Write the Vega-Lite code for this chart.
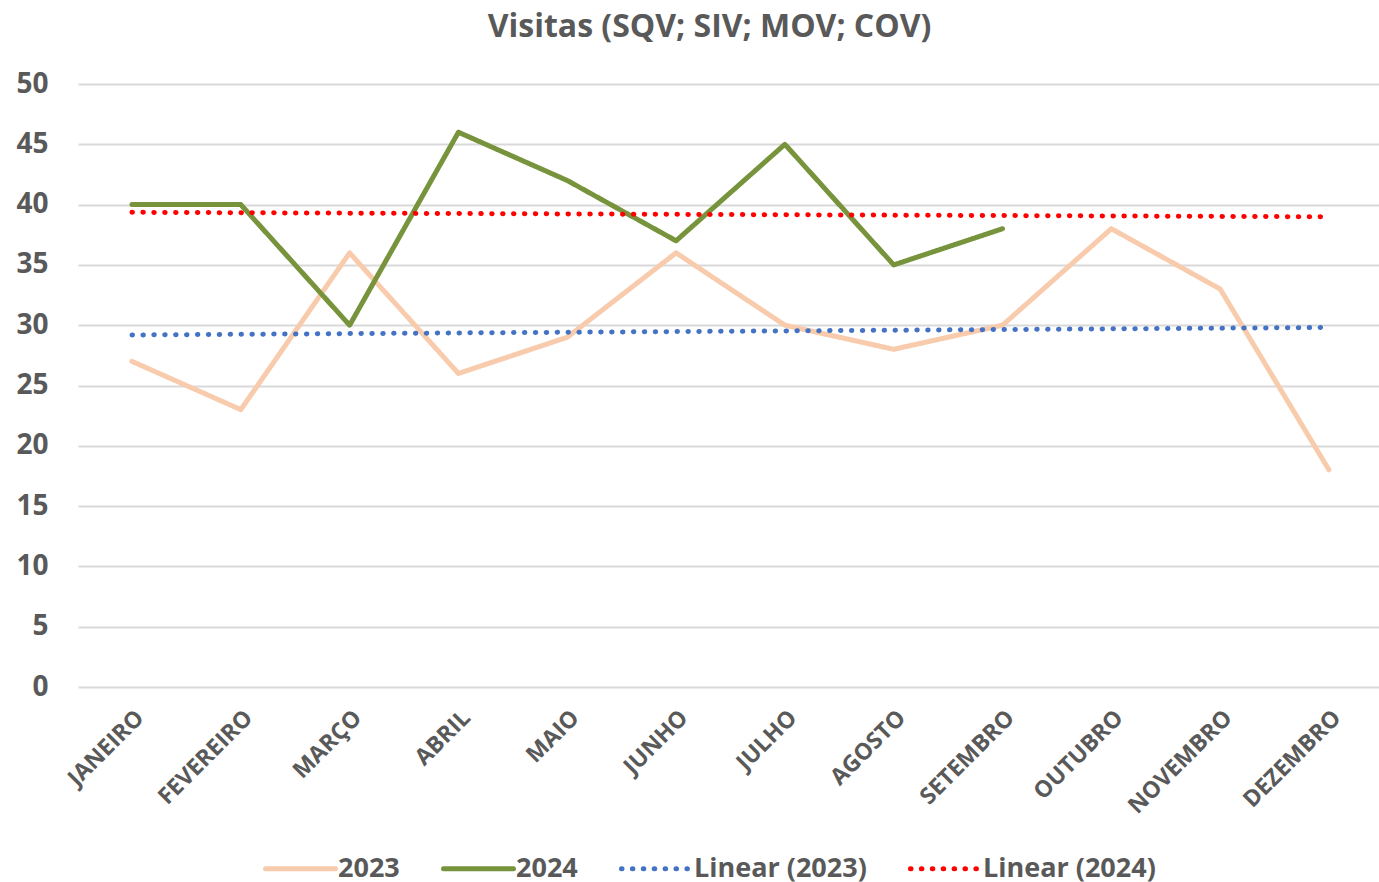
{
  "$schema": "https://vega.github.io/schema/vega-lite/v6.json",
  "width": 1301,
  "height": 603,
  "autosize": "none",
  "padding": {"left": 78, "top": 84, "right": 0, "bottom": 195},
  "background": "white",
  "config": {"view": {"stroke": null}, "font": "Open Sans"},
  "title": {"text": "Visitas (SQV; SIV; MOV; COV)", "fontSize": 32, "font": "Open Sans", "fontWeight": "bold", "color": "#595959", "offset": 26, "dx": -19, "anchor": "middle"},
  "data": {"values": [
    {"mes": "JANEIRO", "serie": "2023", "valor": 27},
    {"mes": "FEVEREIRO", "serie": "2023", "valor": 23},
    {"mes": "MARÇO", "serie": "2023", "valor": 36},
    {"mes": "ABRIL", "serie": "2023", "valor": 26},
    {"mes": "MAIO", "serie": "2023", "valor": 29},
    {"mes": "JUNHO", "serie": "2023", "valor": 36},
    {"mes": "JULHO", "serie": "2023", "valor": 30},
    {"mes": "AGOSTO", "serie": "2023", "valor": 28},
    {"mes": "SETEMBRO", "serie": "2023", "valor": 30},
    {"mes": "OUTUBRO", "serie": "2023", "valor": 38},
    {"mes": "NOVEMBRO", "serie": "2023", "valor": 33},
    {"mes": "DEZEMBRO", "serie": "2023", "valor": 18},
    {"mes": "JANEIRO", "serie": "2024", "valor": 40},
    {"mes": "FEVEREIRO", "serie": "2024", "valor": 40},
    {"mes": "MARÇO", "serie": "2024", "valor": 30},
    {"mes": "ABRIL", "serie": "2024", "valor": 46},
    {"mes": "MAIO", "serie": "2024", "valor": 42},
    {"mes": "JUNHO", "serie": "2024", "valor": 37},
    {"mes": "JULHO", "serie": "2024", "valor": 45},
    {"mes": "AGOSTO", "serie": "2024", "valor": 35},
    {"mes": "SETEMBRO", "serie": "2024", "valor": 38},
    {"mes": "JANEIRO", "serie": "Linear (2023)", "valor": 29.19},
    {"mes": "DEZEMBRO", "serie": "Linear (2023)", "valor": 29.81},
    {"mes": "JANEIRO", "serie": "Linear (2024)", "valor": 39.36},
    {"mes": "DEZEMBRO", "serie": "Linear (2024)", "valor": 38.99}
  ]},
  "mark": {"type": "line", "strokeCap": "round", "strokeJoin": "round"},
  "encoding": {
    "x": {
      "field": "mes", "type": "ordinal",
      "sort": ["JANEIRO", "FEVEREIRO", "MARÇO", "ABRIL", "MAIO", "JUNHO", "JULHO", "AGOSTO", "SETEMBRO", "OUTUBRO", "NOVEMBRO", "DEZEMBRO"],
      "scale": {"type": "point", "padding": 0.478, "align": 0.519},
      "axis": {"title": null, "labelAngle": -45, "labelFontSize": 23, "labelFont": "Open Sans", "labelFontWeight": "bold", "labelColor": "#595959", "domain": false, "ticks": false, "grid": false, "labelPadding": 19}
    },
    "y": {
      "field": "valor", "type": "quantitative",
      "scale": {"domain": [0, 50], "nice": false},
      "axis": {"title": null, "values": [0, 5, 10, 15, 20, 25, 30, 35, 40, 45, 50], "grid": true, "gridColor": "#d9d9d9", "gridWidth": 2, "domain": false, "ticks": false, "labelFontSize": 28, "labelFont": "Open Sans", "labelFontWeight": "bold", "labelColor": "#595959", "labelPadding": 30}
    },
    "color": {
      "field": "serie", "type": "nominal",
      "scale": {"domain": ["2023", "2024", "Linear (2023)", "Linear (2024)"], "range": ["#F8CBAD", "#77933C", "#4472C4", "#FF0000"]},
      "legend": {
        "title": null, "orient": "none", "direction": "horizontal", "legendX": 185, "legendY": 747,
        "symbolType": "stroke", "symbolSize": 4900, "labelFontSize": 27, "labelFont": "Open Sans", "labelFontWeight": "bold", "labelColor": "#595959", "labelOffset": 0, "labelLimit": 400, "columnPadding": 33,
        "encode": {"symbols": {"update": {"strokeCap": {"value": "round"}}}}
      }
    },
    "strokeDash": {
      "field": "serie", "type": "nominal",
      "scale": {"domain": ["2023", "2024", "Linear (2023)", "Linear (2024)"], "range": [[1, 0], [1, 0], [0.5, 10.4], [0.5, 10.4]]},
      "legend": {"title": null}
    },
    "strokeWidth": {
      "field": "serie", "type": "nominal",
      "scale": {"domain": ["2023", "2024", "Linear (2023)", "Linear (2024)"], "range": [5, 5, 4.5, 4.5]},
      "legend": {"title": null}
    }
  }
}
